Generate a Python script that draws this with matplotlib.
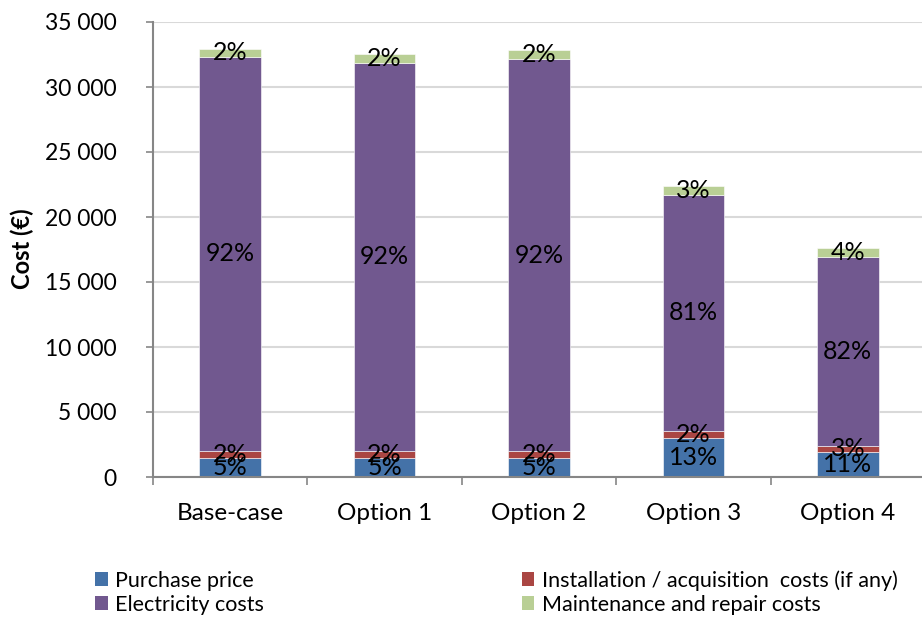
import numpy as np
import matplotlib.pyplot as plt
from matplotlib.patches import Patch

OUT_PATH = "out.png"

categories = ["Base-case", "Option 1", "Option 2", "Option 3", "Option 4"]
purchase = [1500, 1500, 1500, 3010, 1890]
installation = [520, 520, 520, 530, 530]
electricity = [30280, 29820, 30100, 18180, 14510]
maintenance = [640, 690, 690, 690, 720]

series_names = [
    "Purchase price",
    "Installation / acquisition  costs (if any)",
    "Electricity costs",
    "Maintenance and repair costs",
]
series_colors = ["#4472A8", "#AA4643", "#71588F", "#B9CF95"]
y_ticks = [0, 5000, 10000, 15000, 20000, 25000, 30000, 35000]

plt.rcParams["font.family"] = ["Lato", "DejaVu Sans"]

fig = plt.figure(figsize=(9.22, 6.19), dpi=100)
ax = fig.add_axes([153 / 922, (619 - 477) / 619, (925 - 153) / 922, (477 - 22) / 619])

x = np.arange(len(categories))
series = [purchase, installation, electricity, maintenance]
totals = np.sum(np.array(series, dtype=float), axis=0)
bottom = np.zeros(len(categories))
for vals, color in zip(series, series_colors):
    vals = np.array(vals, dtype=float)
    ax.bar(x, vals, 0.40, bottom=bottom, color=color,
           edgecolor="white", linewidth=0.4, zorder=3)
    for xi, v, b, t in zip(x, vals, bottom, totals):
        ax.text(xi, b + v / 2, f"{round(v / t * 100):.0f}%",
                ha="center", va="center", fontsize=18, color="black", zorder=4)
    bottom += vals

ax.set_xlim(-0.5, len(categories) - 0.5)
ax.set_ylim(0, 35000)
ax.set_yticks(y_ticks)
ax.set_yticklabels([f"{v:,}".replace(",", " ") for v in y_ticks], fontsize=16.5)
ax.set_xticks(x)
ax.set_xticklabels(categories, fontsize=17.5)
ax.set_xticks(np.arange(len(categories) + 1) - 0.5, minor=True)
ax.tick_params(axis="x", which="major", length=0, pad=19)
ax.tick_params(axis="x", which="minor", length=6, width=1.2, color="#868686", direction="out")
ax.tick_params(axis="y", length=5, width=1.2, color="#868686", direction="out", pad=21)

ax.grid(axis="y", color="#D9D9D9", linewidth=1.5, zorder=0)
for side in ["top", "right"]:
    ax.spines[side].set_visible(False)
for side in ["left", "bottom"]:
    ax.spines[side].set_color("#868686")
    ax.spines[side].set_linewidth(1.5)
    ax.spines[side].set_zorder(5)

fig.text(22 / 922, 1 - 249 / 619, "Cost (€)", rotation=90, fontsize=17,
         fontweight="bold", ha="center", va="center")

handles = [Patch(facecolor=c) for c in series_colors]
order = [0, 2, 1, 3]
fig.legend([handles[i] for i in order], [series_names[i] for i in order],
           ncol=2, loc="upper left", bbox_to_anchor=(95 / 922, 1 - 570 / 619),
           frameon=False, fontsize=15.5, handlelength=0.6, handleheight=0.6,
           handletextpad=0.35, labelspacing=0.2, columnspacing=11.95,
           borderaxespad=0, borderpad=0)

fig.savefig(OUT_PATH, dpi=100)
plt.close(fig)
